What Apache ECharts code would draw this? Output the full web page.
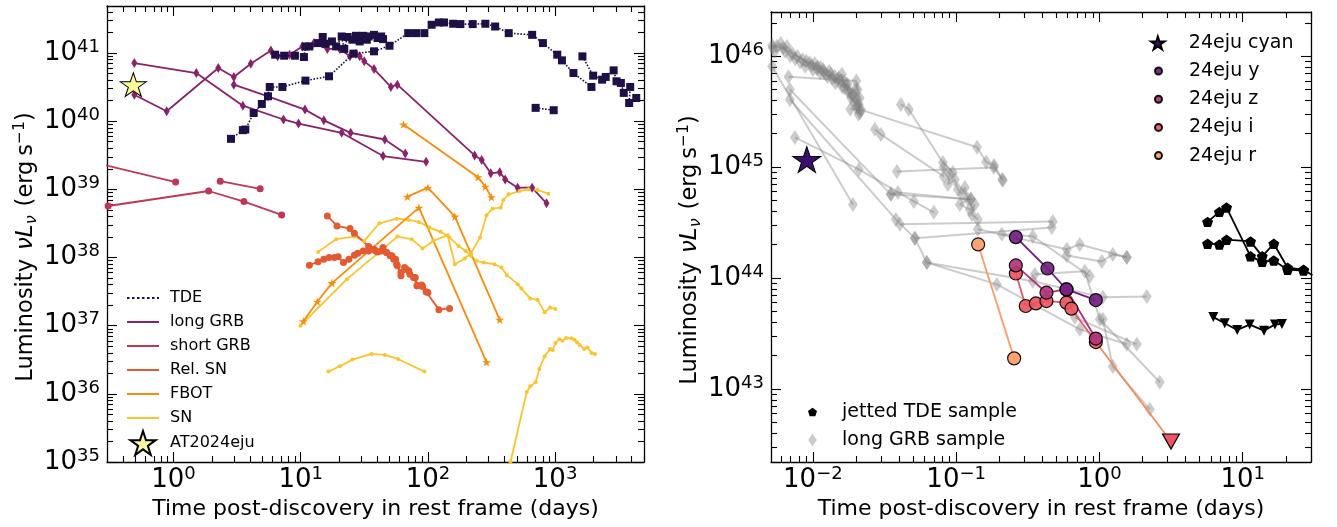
<!DOCTYPE html>
<html><head><meta charset="utf-8">
<script src="https://cdn.jsdelivr.net/npm/echarts@6/dist/echarts.min.js"></script>
<style>html,body{margin:0;padding:0;background:#fff}#c{width:1337px;height:527px}</style>
</head><body><div id="c"></div>
<script>
// ---------------- LEFT PANEL DATA [days, erg/s] ----------------
const tde1 = [[6.30,9.46e40],[7.41,9.14e40],[9.01,9.14e40],[10.6,8.74e40],[10.9,1.25e41],[11.7,1.25e41],[13.7,1.40e41],[14.9,1.72e41],[15.7,1.37e41],[17.6,1.48e41],[19.0,1.25e41],[21.0,1.75e41],[22.0,1.15e41],[23.4,1.72e41],[25.5,1.57e41],[27.2,1.79e41],[29.1,1.48e41],[31.0,1.79e41],[33.1,1.57e41],[34.2,1.75e41],[37.7,1.85e41],[40.2,1.66e41],[42.9,1.75e41],[44.4,1.60e41]];
const tde2 = [[2.83,5.51e39],[3.51,7.39e39],[3.67,7.55e39],[4.27,1.32e40],[4.95,1.79e40],[5.53,2.32e40],[5.71,3.18e40],[7.18,3.18e40],[10.9,3.94e40],[16.7,4.56e40],[26.0,9.8e40],[37.7,1.06e41],[49.9,1.28e41],[70,1.96e41],[80.7,1.96e41],[93.8,1.96e41],[107,2.60e41],[122,2.81e41],[134,2.81e41],[158,2.69e41],[180,2.66e41],[225,2.66e41],[283,2.69e41],[338,2.45e41],[432,1.96e41],[660,1.85e41],[802,1.40e41],[1040,9.46e40],[1132,7.81e40],[1394,5.09e40],[1930,3.18e40]];
const tde3 = [[1640,8.94e40],[1992,4.66e40],[2343,4.07e40],[2500,4.46e40],[2885,5.57e40],[3040,3.85e40],[3290,3.64e40],[3465,2.60e40],[3895,3.18e40],[3822,1.85e40],[4347,2.19e40]];
const tde4 = [[703,1.57e40],[975,1.45e40]];
const lgrb1 = [[0.492,7.14e40],[1.51,5.09e40],[3.51,1.69e40],[7.32,1.06e40],[9.61,9.25e39],[21.0,6.75e39],[44.4,3.08e39],[96.8,2.54e39]];
const lgrb2 = [[0.492,2.45e40],[0.884,1.40e40],[2.25,6.03e40],[2.98,4.46e40],[4.05,6.98e40],[5.83,1.09e41],[6.59,8.94e40],[8.17,9.46e40],[10.3,1.25e41],[12.7,1.40e41],[16.2,1.15e41],[20.3,1.15e41],[24.4,8.94e40],[27.2,9.8e40],[29.1,8.94e40],[31.6,7.55e40],[37.7,5.83e40],[51.2,3.18e40],[57.5,3.44e40],[233,3.15e39],[265,2.69e39],[312,1.72e39],[367,1.79e39],[405,1.40e39],[508,1.06e39],[660,1.06e39],[856,6.24e38]];
const lgrb3 = [[2.98,3.44e40],[5.53,2.32e40],[10.8,1.48e40],[15.2,1.03e40],[24.7,6.75e39],[45.8,5.39e39],[66.4,3.37e39]];
const sgrb1 = [[0.2,2.67e39],[1.04,1.28e39]];
const sgrb2 = [[0.306,5.70e38],[1.89,9.46e38],[3.58,6.61e38],[7.08,4.21e38]];
const sgrb3 = [[2.33,1.32e39],[4.80,1.02e39]];
const relsn1 = [[16.2,4.07e38],[19.3,2.91e38],[24.4,2.66e38],[26.4,2.27e38],[34.2,1.45e38],[38.9,1.25e38],[42.9,1.25e38],[47.3,1.18e38],[52.2,1.06e38],[53.9,9.46e37],[56.8,7.98e37],[61.4,5.39e37],[67.7,6.75e37],[72.2,5.70e37],[79.6,5.09e37],[82.3,3.85e37],[89.5,3.94e37],[96.8,3.15e37],[122,1.72e37],[148,1.79e37]];
const relsn2 = [[11.7,7.72e37],[13.7,8.65e37],[15.2,9.46e37],[16.7,1.00e38],[18.4,1.00e38],[19.7,1.03e38],[21.7,8.45e37],[23.9,9.46e37],[26.4,1.08e38],[28.1,1.16e38],[31.0,1.25e38],[34.2,1.25e38],[37.7,1.32e38],[40.2,1.21e38],[44.4,1.40e38],[47.3,1.18e38],[50.5,1.06e38],[55.7,9.46e37],[57.5,7.55e37],[61.4,6.03e37],[65.5,7.14e37],[70.8,6.38e37],[77.1,5.09e37],[82.3,3.85e37],[90.7,3.76e37],[100,3.08e37]];
const fbot1 = [[64.3,8.93e39],[248,1.51e39],[283,1.09e39],[316,7.64e38]];
const fbot2 = [[69.0,7.81e38],[100,1.06e39],[163,3.98e38],[367,1.22e37]];
const fbot3 = [[10.5,1.16e37],[13.5,2.24e37],[17.6,4.21e37],[85,5.39e38],[289,2.91e36]];
const sn1 = [[13.7,1.21e38],[19.0,1.86e38],[26.4,2.03e38],[31.6,1.75e38],[41.6,3.18e38],[56.8,3.72e38],[70.0,3.56e38],[85.0,3.33e38],[103,2.75e38],[126,2.38e38],[148,1.96e38],[174,1.48e38],[198,1.25e38],[218,1.06e38],[240,8.93e37],[274,8.45e37],[333,7.98e37],[379,7.14e37],[418,5.51e37],[508,4.07e37],[542,3.52e37],[638,2.51e37],[727,2.40e37],[828,1.57e37],[913,1.85e37],[1006,1.75e37]];
const sn2 = [[9.94,1.0e37],[23.1,4.82e37],[41.6,1.21e38],[57.5,2.03e38],[74.6,1.86e38],[90.7,1.36e38],[110,1.75e38],[143,2.12e38],[163,7.98e37],[195,9.67e37],[218,1.16e38],[257,1.96e38],[289,4.17e38],[322,5.21e38],[374,5.39e38],[392,6.98e38],[432,8.45e38],[525,9.46e38],[618,1.0e39],[727,9.78e38],[884,8.65e38]];
const sn3 = [[16.5,2.12e36],[20.3,2.54e36],[25.5,3.18e36],[36.0,3.85e36],[45.8,3.72e36],[58.3,3.25e36],[93.8,2.12e36]];
const sn4 = [[400,5e34],[446,1.0e35],[598,1.06e36],[638,1.29e36],[703,1.48e36],[751,2.32e36],[828,3.56e36],[913,4.56e36],[960,4.4e36],[1006,5.57e36],[1080,6.3e36],[1146,6.03e36],[1220,6.6e36],[1349,6.53e36],[1420,6.2e36],[1487,5.70e36],[1560,5.2e36],[1694,4.56e36],[1800,4.8e36],[1930,3.98e36],[2059,3.85e36]];
const eju = [[0.483,3.44e40]];

// ---------------- RIGHT PANEL DATA ----------------
const ejuCyan = [[0.00907,1.17e45]];
const ejuY = [[0.261,2.34e44],[0.434,1.22e44],[0.589,7.9e43],[0.944,6.34e43]];
const ejuZ = [[0.261,1.30e44],[0.427,7.38e43],[0.589,7.9e43],[0.944,2.85e43]];
const ejuI = [[0.261,1.10e44],[0.306,5.6e43],[0.360,5.91e43],[0.427,6.21e43],[0.589,6.0e43],[0.638,5.3e43],[0.944,2.65e43]];
const ejuILimit = [[0.944,2.65e43],[3.16,3.37e42]];
const ejuR = [[0.1424,2.01e44],[0.254,1.89e43]];
const jtde1 = [[5.69,3.21e44],[6.88,3.95e44],[7.72,4.32e44],[11.35,1.57e44],[13.7,1.40e44],[16.5,1.44e44],[20.6,1.19e44],[26.6,1.17e44]];
const jtde2 = [[5.69,2.04e44],[6.88,2.01e44],[7.72,2.22e44],[11.35,2.14e44],[13.7,1.57e44],[16.5,2.04e44],[20.6,1.24e44],[26.6,1.19e44],[30.7,1.06e44]];
const jtde3 = [[6.24,4.45e43],[7.50,3.92e43],[9.17,3.41e43],[11.2,3.81e43],[14.1,3.36e43],[16.8,3.81e43],[18.8,3.86e43]];
const gA = [[0.00525,1.19e46],[0.0056,1.23e46],[0.00597,1.30e46],[0.00641,1.11e46],[0.00694,1.01e46],[0.00752,9.46e45],[0.00815,8.84e45],[0.00884,8.13e45],[0.00948,8.72e45],[0.0100,7.60e45],[0.01067,7.70e45],[0.01125,7.10e45],[0.01188,7.19e45],[0.01268,6.53e45],[0.01337,6.86e45],[0.01433,5.77e45],[0.01511,6.40e45],[0.01595,6.86e45],[0.01656,5.20e45],[0.01747,5.57e45],[0.01875,4.54e45],[0.01977,5.02e45],[0.0203,4.09e45],[0.0209,3.69e45],[0.0212,3.33e45],[0.01824,3.33e45],[0.0217,3.28e45],[0.140,1.51e45],[0.162,1.11e45],[0.184,1.04e45],[0.210,7.76e44]];
const gA2 = [[0.0052,1.25e46],[0.0062,1.18e46],[0.0072,1.05e46],[0.0085,9.3e45],[0.0098,8.3e45],[0.0108,8.0e45],[0.0118,7.6e45],[0.0130,7.3e45],[0.0142,6.6e45],[0.0155,6.0e45],[0.0165,5.9e45],[0.0175,4.9e45],[0.0185,4.2e45],[0.0195,3.9e45],[0.0205,3.6e45],[0.0213,3.1e45]];
const gA3 = [[0.0054,1.1e46],[0.0066,1.22e46],[0.0078,1.0e46],[0.0090,9.0e45],[0.0103,8.6e45],[0.0113,7.9e45],[0.0123,6.9e45],[0.0136,6.3e45],[0.0148,6.1e45],[0.0160,5.3e45],[0.0170,5.6e45],[0.0180,4.7e45],[0.0190,4.4e45],[0.0200,3.5e45],[0.0208,3.0e45]];
const gB = [[0.00676,6.53e45],[0.0201,5.97e45],[0.0205,5.0e45],[0.0212,4.2e45]];
const gD1 = [[0.0052,8.08e45],[0.01902,4.61e44]];
const gD2 = [[0.00691,4.07e45],[0.03795,3.38e44],[0.0515,2.28e44],[0.4653,2.86e44]];
const gD3 = [[0.00691,5.01e45],[0.03501,5.68e44],[0.1266,5.12e44]];
const gD4 = [[0.00749,1.85e45],[0.02094,9.53e44],[0.05068,4.91e44],[0.0699,3.91e44]];
const gD5 = [[0.04112,3.67e45],[0.04676,3.31e45],[0.08073,1.10e45],[0.09484,8.95e44]];
const gD6 = [[0.02708,2.19e45],[0.02982,1.97e45],[0.08204,8.24e44]];
const gD7 = [[0.03857,9.14e44],[0.1833,9.93e44],[0.2118,7.59e44]];
const gD8 = [[0.03501,5.68e44],[0.0392,5.92e44],[0.1266,5.12e44]];
const gC2 = [[0.08204,9.93e44],[0.09036,8.59e44],[0.08752,6.98e44],[0.09793,7.74e44],[0.1028,6.30e44],[0.1096,5.68e44],[0.115,6.56e44],[0.1207,5.12e44],[0.1061,4.61e44],[0.1246,4.16e44],[0.1351,4.61e44],[0.1287,3.75e44],[0.1417,3.38e44]];
const gE1 = [[0.04046,3.05e44],[0.4729,3.24e44]];
const gE3 = [[0.0515,2.28e44],[0.06245,1.38e44],[0.3429,9.35e43],[1.056,6.70e43],[2.142,6.84e43]];
const gE4 = [[0.1417,2.75e44],[0.5922,1.82e44],[0.7298,2.01e44],[1.553,1.54e44]];
const gE5 = [[0.2084,2.48e44],[0.3429,2.38e44],[0.857,1.04e44]];
const gE6 = [[0.3541,1.08e44],[0.7909,1.15e44],[1.006,4.25e43],[2.639,1.15e43]];
const gE8 = [[1.056,4.25e43],[1.24,1.60e43],[2.247,6.56e42]];
const gE9 = [[0.6734,4.43e43],[1.824,2.53e43]];
const gE10 = [[0.06245,1.38e44],[0.1923,8.77e43],[0.7298,3.45e43],[1.553,2.53e43]];
const gE11 = [[0.5922,1.6e44],[1.04,1.41e44],[1.24,1.63e44],[1.553,1.54e44]];
const grbSample = [gA,gA2,gA3,gB,gD1,gD2,gD3,gD4,gD5,gD6,gD7,gD8,gC2,gE1,gE3,gE4,gE5,gE6,gE8,gE9,gE10,gE11];

// ---------------- AXES ----------------
const leftXRange = [0.3, 5000], leftYRange = [1e35, 4.9e41];
const rightXRange = [0.0051, 30], rightYRange = [2.2e42, 2.5e46];
const leftXLabels = [1, 10, 100, 1000];
const leftYLabels = [1e35, 1e36, 1e37, 1e38, 1e39, 1e40, 1e41];
const rightXLabels = [0.01, 0.1, 1, 10];
const rightYLabels = [1e43, 1e44, 1e45, 1e46];

const FONT = 'DejaVu Sans';
const C = {tde:'#1e1047', lgrb:'#8a226a', sgrb:'#bf3656', rel:'#e45a30', fbot:'#f98c0a', sn:'#fac42e',
  cyan:'#3a0f6e', y:'#721f81', z:'#b13479', i:'#ea5661', r:'#fc9d67', gray:'rgba(128,128,128,0.4)'};

function tickVals(min, max, digits) {
  const out = [];
  for (let k = Math.floor(Math.log10(min)) - 1; k <= Math.ceil(Math.log10(max)); k++) {
    for (const d of digits) {
      const v = Number((d * Math.pow(10, k)).toPrecision(4));
      if (v >= min * 0.9999 && v <= max * 1.0001) out.push(v);
    }
  }
  return out;
}
const MINOR = [2,3,4,5,6,7,8,9];
function fmt(v) { const e = Math.round(Math.log10(v)); return '{b|10}{s|' + (e < 0 ? '\u2212' + (-e) : e) + '}'; }
const richLbl = {b:{fontSize:26, lineHeight:30, fontFamily:FONT, color:'#000'},
                 s:{fontSize:18, lineHeight:18, verticalAlign:'top', fontFamily:FONT, color:'#000'}};
const nameRich = {n:{fontSize:22.5, lineHeight:28, fontFamily:FONT, color:'#000'},
                  it:{fontSize:23, lineHeight:28, fontStyle:'italic', fontFamily:FONT, color:'#000'},
                  sb:{fontSize:16, lineHeight:14, verticalAlign:'bottom', fontStyle:'italic', fontFamily:FONT, color:'#000'},
                  sp:{fontSize:15.5, lineHeight:15, verticalAlign:'top', fontFamily:FONT, color:'#000'},
                  g:{width:9, fontSize:22.5}, t:{width:5, fontSize:22.5}, pad:{width:26, fontSize:22.5}};
const yName = '{n|Luminosity}{g| }{it|\u03BDL}{sb|\u03BD}{g| }{n|(erg}{t| }{n|s}{sp|\u22121}{n|)}{pad| }';
const xName = 'Time post-discovery in rest frame (days)';

function axesFor(dim, grid, range, labels, nameOpt) {
  const [min, max] = range;
  const major = tickVals(min, max, [1]);
  const minor = tickVals(min, max, MINOR);
  const pos = dim === 'x' ? ['bottom', 'top'] : ['left', 'right'];
  const base = {type:'log', logBase:10, gridIndex:grid, min, max, splitLine:{show:false},
    axisLine:{show:false}, axisTick:{show:false}, axisLabel:{show:false}, silent:true};
  const line = {show:true, onZero:false, lineStyle:{color:'#000', width:1.3}};
  const tick = (vals, len) => ({show:true, inside:true, length:len, customValues:vals, lineStyle:{color:'#000', width:1.1}});
  const first = Object.assign({}, base, {position:pos[0], axisLine:line, axisTick:tick(major, 10),
    axisLabel:{show:true, customValues:labels, formatter:fmt, rich:richLbl, margin: dim === 'x' ? 3 : 7}}, nameOpt);
  return [
    first,
    Object.assign({}, base, {position:pos[0], axisTick:tick(minor, 6)}),
    Object.assign({}, base, {position:pos[1], axisLine:line, axisTick:tick(major, 10)}),
    Object.assign({}, base, {position:pos[1], axisTick:tick(minor, 6)})
  ];
}
const xNameOpt = {name:xName, nameLocation:'middle', nameGap:35, nameTextStyle:{fontSize:22, fontFamily:FONT, color:'#000'}};
const xAxes = axesFor('x', 0, leftXRange, leftXLabels, xNameOpt).concat(axesFor('x', 1, rightXRange, rightXLabels, xNameOpt));
const yAxes = axesFor('y', 0, leftYRange, leftYLabels, {name:yName, nameLocation:'middle', nameGap:66, nameRotate:90, nameTextStyle:{rich:nameRich}})
  .concat(axesFor('y', 1, rightYRange, rightYLabels, {name:yName, nameLocation:'middle', nameGap:57, nameRotate:90, nameTextStyle:{rich:nameRich}}));

// ---------------- SERIES ----------------
const STAR = 'path://M0,-1L0.2245,-0.309L0.951,-0.309L0.3633,0.118L0.5878,0.809L0,0.382L-0.5878,0.809L-0.3633,0.118L-0.951,-0.309L-0.2245,-0.309Z';
const PENT = 'path://M0,-1L0.951,-0.309L0.588,0.809L-0.588,0.809L-0.951,-0.309Z';
const DIAM = 'path://M0,-1.5L1,0L0,1.5L-1,0Z';
function ln(name, data, panel, color, symbol, size, extra) {
  return Object.assign({type:'line', name, data, xAxisIndex: panel * 4, yAxisIndex: panel * 4,
    symbol, symbolSize:size, symbolKeepAspect:true, showSymbol:true, clip:true, silent:true, animation:false,
    lineStyle:{color, width:1.8}, itemStyle:{color, borderWidth:0}, emphasis:{disabled:true}, z:3}, extra || {});
}
const series = [];
grbSample.forEach(d => series.push(ln('long GRB sample', d, 1, C.gray, 'diamond', [10,15], {lineStyle:{color:C.gray, width:2}, z:1})));
series.push(ln('jetted TDE sample', jtde1, 1, '#000', PENT, 11, {z:2}));
series.push(ln('jetted TDE sample', jtde2, 1, '#000', PENT, 11, {z:2}));
series.push(ln('jetted TDE sample', jtde3, 1, '#000', 'triangle', 10, {symbolRotate:180, z:2}));
const ejuItem = c => ({color:c, borderColor:'#000', borderWidth:1.2, opacity:0.92});
series.push(ln('24eju r', ejuR, 1, C.r, 'circle', 13, {itemStyle:ejuItem(C.r), z:5}));
series.push(ln('24eju i limit', ejuILimit, 1, '#f08a5e', 'none', 1, {z:4}));
series.push(ln('24eju i', ejuI, 1, C.i, 'circle', 13, {itemStyle:ejuItem(C.i), z:5}));
series.push(ln('24eju z', ejuZ, 1, C.z, 'circle', 13, {itemStyle:ejuItem(C.z), z:5}));
series.push(ln('24eju y', ejuY, 1, C.y, 'circle', 13, {itemStyle:ejuItem(C.y), z:5}));
series.push({type:'scatter', name:'24eju limit', data:[ejuILimit[1]], xAxisIndex:4, yAxisIndex:4, symbol:'triangle', symbolRotate:180,
  symbolSize:[17,15], itemStyle:{color:C.i, borderColor:'#000', borderWidth:1.2, opacity:1}, silent:true, z:6});
series.push({type:'scatter', name:'24eju cyan', data:ejuCyan, xAxisIndex:4, yAxisIndex:4, symbol:STAR, symbolKeepAspect:true,
  symbolSize:[28,27], itemStyle:{color:C.cyan, borderColor:'#000', borderWidth:1, opacity:1}, silent:true, z:6});
[lgrb1, lgrb2, lgrb3].forEach(d => series.push(ln('long GRB', d, 0, C.lgrb, 'diamond', [6,10])));
[sgrb1, sgrb2, sgrb3].forEach(d => series.push(ln('short GRB', d, 0, C.sgrb, 'circle', 7)));
[sn1, sn2, sn3, sn4].forEach(d => series.push(ln('SN', d, 0, C.sn, 'circle', 4)));
[fbot1, fbot2, fbot3].forEach(d => series.push(ln('FBOT', d, 0, C.fbot, STAR, 9)));
[relsn1, relsn2].forEach(d => series.push(ln('Rel. SN', d, 0, C.rel, 'circle', 7)));
[tde1, tde2, tde3, tde4].forEach(d => series.push(ln('TDE', d, 0, C.tde, 'rect', 8, {lineStyle:{color:C.tde, width:1.6, type:'dotted'}, z:4})));
series.push({type:'scatter', name:'AT2024eju', data:eju, xAxisIndex:0, yAxisIndex:0, symbol:STAR, symbolKeepAspect:true,
  symbolSize:[26,25], itemStyle:{color:'#fcfb9e', borderColor:'#000', borderWidth:1, opacity:1}, silent:true, z:6});

// ---------------- LEGENDS ----------------
const LINE = 'path://M0,0h32v2h-32z';
const DOTS = 'path://M0,0h2.5v2h-2.5zM5,0h2.5v2h-2.5zM10,0h2.5v2h-2.5zM15,0h2.5v2h-2.5zM20,0h2.5v2h-2.5zM25,0h2.5v2h-2.5zM30,0h2v2h-2z';
const legTxt = (fs, pad, lh) => ({fontSize:fs, fontFamily:FONT, color:'#000', padding:[0,0,0,pad], lineHeight:lh});
const noB = {borderWidth:0};
const legend = [
  {left:122, top:281, orient:'vertical', itemWidth:32, itemHeight:24, itemGap:0, selectedMode:false, textStyle:legTxt(16, 6, 24),
   data:[{name:'TDE', icon:DOTS, itemStyle:noB}, {name:'long GRB', icon:LINE, itemStyle:noB}, {name:'short GRB', icon:LINE, itemStyle:noB},
         {name:'Rel. SN', icon:LINE, itemStyle:noB}, {name:'FBOT', icon:LINE, itemStyle:noB}, {name:'SN', icon:LINE, itemStyle:noB},
         {name:'AT2024eju', icon:STAR}]},
  {left:1145, top:24, orient:'vertical', itemWidth:14, itemHeight:13, itemGap:0, selectedMode:false, textStyle:legTxt(19, 19, 28),
   data:[{name:'24eju cyan', icon:STAR}]},
  {left:1149, top:52, orient:'vertical', itemWidth:7, itemHeight:7, itemGap:0.2, selectedMode:false, textStyle:legTxt(19, 22, 28),
   data:[{name:'24eju y', icon:'circle'}, {name:'24eju z', icon:'circle'}, {name:'24eju i', icon:'circle'}, {name:'24eju r', icon:'circle'}]},
  {left:803, top:393, orient:'vertical', itemWidth:9, itemHeight:13, itemGap:0, selectedMode:false, textStyle:legTxt(19, 20, 28),
   data:[{name:'jetted TDE sample', icon:PENT}, {name:'long GRB sample', icon:DIAM}]}
];

const chart = echarts.init(document.getElementById('c'), null, {renderer:'canvas'});
chart.setOption({
  animation:false,
  backgroundColor:'#fff',
  textStyle:{fontFamily:FONT},
  grid:[{left:107, top:6, width:537, height:456}, {left:771, top:12, width:540, height:450}],
  xAxis:xAxes, yAxis:yAxes, legend, series
});
</script></body></html>
